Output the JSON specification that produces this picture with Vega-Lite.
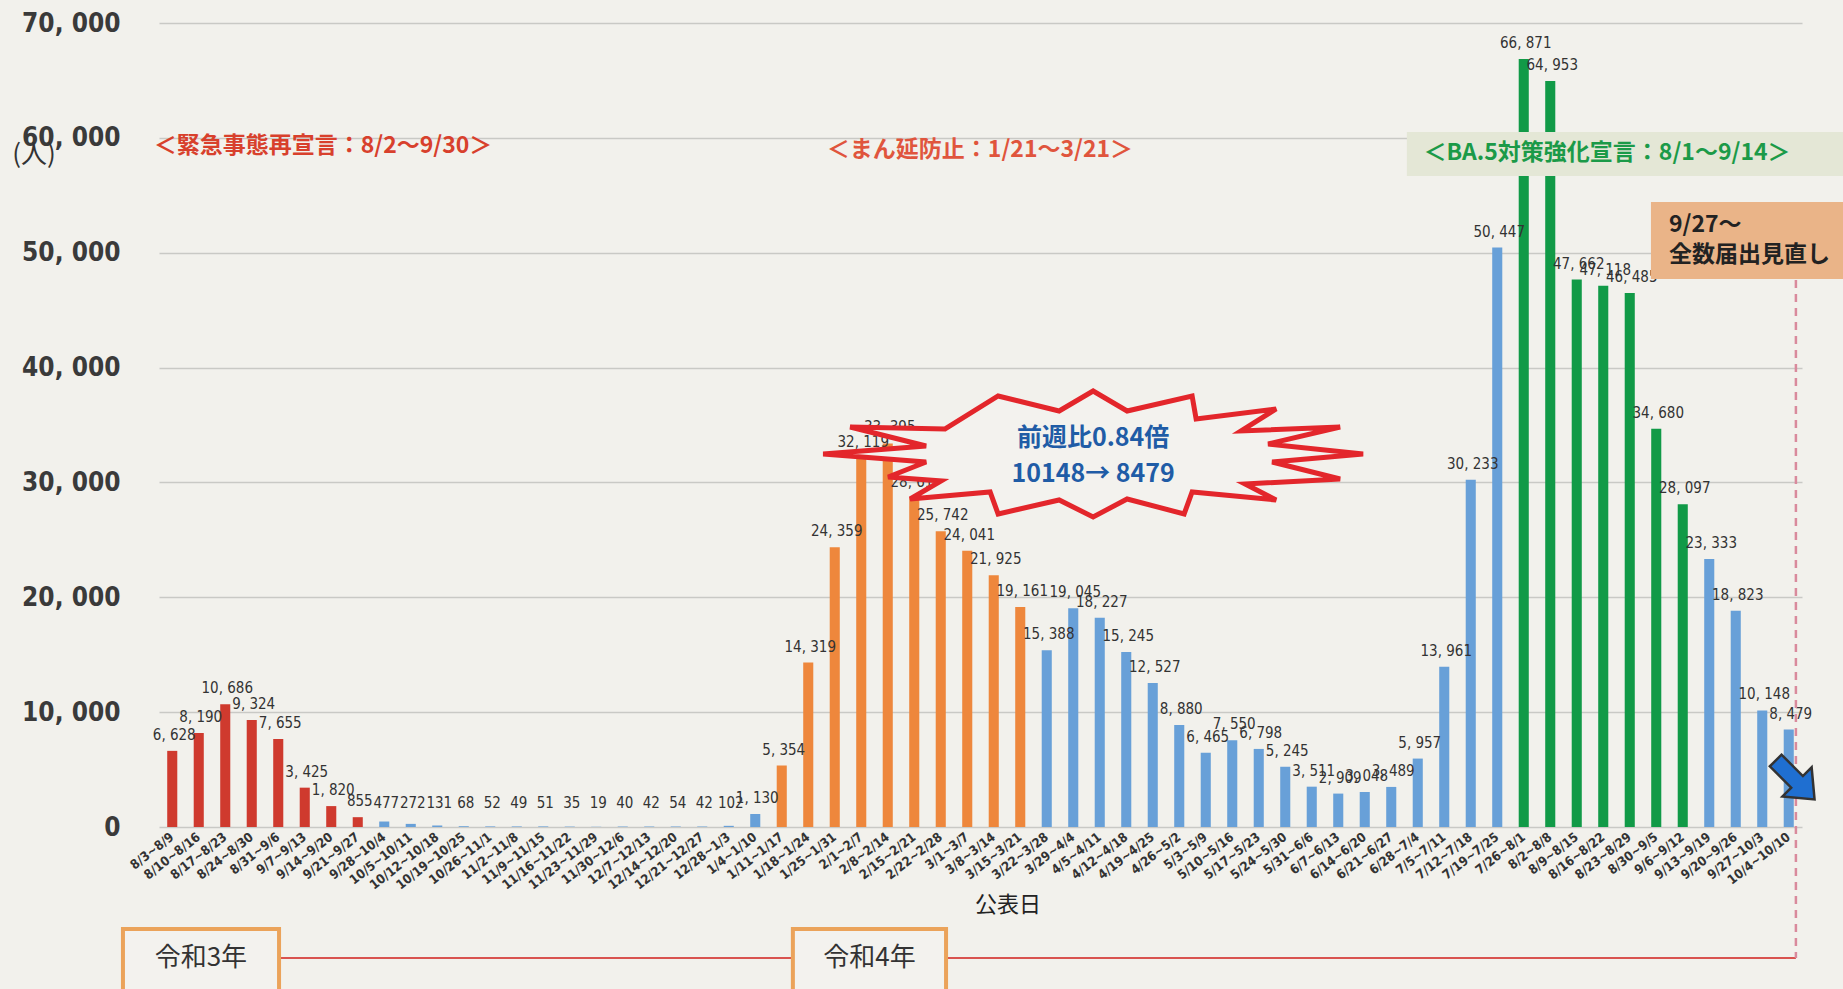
{
  "$schema": "https://vega.github.io/schema/vega-lite/v6.json",
  "width": 1643,
  "height": 804,
  "autosize": "none",
  "padding": {"left": 159, "top": 23, "right": 41, "bottom": 162},
  "background": "#f2f1ec",
  "config": {
    "view": {"stroke": null},
    "locale": {"number": {"decimal": ".", "thousands": ", ", "grouping": [3], "currency": ["", ""]}},
    "font": "Noto Sans CJK JP"
  },
  "resolve": {"scale": {"x": "independent", "y": "independent"}},
  "datasets": {
    "weeks": [
      {"week": "8/3~8/9", "value": 6628, "phase": "緊急事態"},
      {"week": "8/10~8/16", "value": 8190, "phase": "緊急事態"},
      {"week": "8/17~8/23", "value": 10686, "phase": "緊急事態"},
      {"week": "8/24~8/30", "value": 9324, "phase": "緊急事態"},
      {"week": "8/31~9/6", "value": 7655, "phase": "緊急事態"},
      {"week": "9/7~9/13", "value": 3425, "phase": "緊急事態"},
      {"week": "9/14~9/20", "value": 1820, "phase": "緊急事態"},
      {"week": "9/21~9/27", "value": 855, "phase": "緊急事態"},
      {"week": "9/28~10/4", "value": 477, "phase": "通常"},
      {"week": "10/5~10/11", "value": 272, "phase": "通常"},
      {"week": "10/12~10/18", "value": 131, "phase": "通常"},
      {"week": "10/19~10/25", "value": 68, "phase": "通常"},
      {"week": "10/26~11/1", "value": 52, "phase": "通常"},
      {"week": "11/2~11/8", "value": 49, "phase": "通常"},
      {"week": "11/9~11/15", "value": 51, "phase": "通常"},
      {"week": "11/16~11/22", "value": 35, "phase": "通常"},
      {"week": "11/23~11/29", "value": 19, "phase": "通常"},
      {"week": "11/30~12/6", "value": 40, "phase": "通常"},
      {"week": "12/7~12/13", "value": 42, "phase": "通常"},
      {"week": "12/14~12/20", "value": 54, "phase": "通常"},
      {"week": "12/21~12/27", "value": 42, "phase": "通常"},
      {"week": "12/28~1/3", "value": 102, "phase": "通常"},
      {"week": "1/4~1/10", "value": 1130, "phase": "通常"},
      {"week": "1/11~1/17", "value": 5354, "phase": "まん延防止"},
      {"week": "1/18~1/24", "value": 14319, "phase": "まん延防止"},
      {"week": "1/25~1/31", "value": 24359, "phase": "まん延防止"},
      {"week": "2/1~2/7", "value": 32119, "phase": "まん延防止"},
      {"week": "2/8~2/14", "value": 33395, "phase": "まん延防止"},
      {"week": "2/15~2/21", "value": 28618, "phase": "まん延防止"},
      {"week": "2/22~2/28", "value": 25742, "phase": "まん延防止"},
      {"week": "3/1~3/7", "value": 24041, "phase": "まん延防止"},
      {"week": "3/8~3/14", "value": 21925, "phase": "まん延防止"},
      {"week": "3/15~3/21", "value": 19161, "phase": "まん延防止"},
      {"week": "3/22~3/28", "value": 15388, "phase": "通常"},
      {"week": "3/29~4/4", "value": 19045, "phase": "通常"},
      {"week": "4/5~4/11", "value": 18227, "phase": "通常"},
      {"week": "4/12~4/18", "value": 15245, "phase": "通常"},
      {"week": "4/19~4/25", "value": 12527, "phase": "通常"},
      {"week": "4/26~5/2", "value": 8880, "phase": "通常"},
      {"week": "5/3~5/9", "value": 6465, "phase": "通常"},
      {"week": "5/10~5/16", "value": 7550, "phase": "通常"},
      {"week": "5/17~5/23", "value": 6798, "phase": "通常"},
      {"week": "5/24~5/30", "value": 5245, "phase": "通常"},
      {"week": "5/31~6/6", "value": 3511, "phase": "通常"},
      {"week": "6/7~6/13", "value": 2909, "phase": "通常"},
      {"week": "6/14~6/20", "value": 3048, "phase": "通常"},
      {"week": "6/21~6/27", "value": 3489, "phase": "通常"},
      {"week": "6/28~7/4", "value": 5957, "phase": "通常"},
      {"week": "7/5~7/11", "value": 13961, "phase": "通常"},
      {"week": "7/12~7/18", "value": 30233, "phase": "通常"},
      {"week": "7/19~7/25", "value": 50447, "phase": "通常"},
      {"week": "7/26~8/1", "value": 66871, "phase": "BA.5対策強化"},
      {"week": "8/2~8/8", "value": 64953, "phase": "BA.5対策強化"},
      {"week": "8/9~8/15", "value": 47662, "phase": "BA.5対策強化"},
      {"week": "8/16~8/22", "value": 47118, "phase": "BA.5対策強化"},
      {"week": "8/23~8/29", "value": 46485, "phase": "BA.5対策強化"},
      {"week": "8/30~9/5", "value": 34680, "phase": "BA.5対策強化"},
      {"week": "9/6~9/12", "value": 28097, "phase": "BA.5対策強化"},
      {"week": "9/13~9/19", "value": 23333, "phase": "通常"},
      {"week": "9/20~9/26", "value": 18823, "phase": "通常"},
      {"week": "9/27~10/3", "value": 10148, "phase": "通常"},
      {"week": "10/4~10/10", "value": 8479, "phase": "通常"}
    ]
  },
  "layer": [
    {
      "data": {"name": "weeks"},
      "mark": {"type": "bar"},
      "encoding": {
        "x": {
          "field": "week", "type": "nominal", "sort": null,
          "scale": {"paddingInner": 0.62, "paddingOuter": 0.31},
          "axis": {
            "title": null, "labelAngle": -38, "labelAlign": "right", "labelBaseline": "middle",
            "labelPadding": 8, "ticks": false, "domain": false, "labelOverlap": false, "labelLimit": 0,
            "labelFont": "Liberation Sans Narrow, DejaVu Sans Condensed, sans-serif",
            "labelFontSize": 13, "labelFontWeight": "bold", "labelColor": "#333333"
          }
        },
        "y": {
          "field": "value", "type": "quantitative",
          "scale": {"domain": [0, 70000], "nice": false},
          "axis": {
            "title": null, "values": [0, 10000, 20000, 30000, 40000, 50000, 60000, 70000],
            "format": ",d", "grid": true, "gridColor": "#c9c9c5", "gridWidth": 1.5,
            "domain": false, "ticks": false, "labelPadding": 39,
            "labelFont": "Liberation Sans Narrow, DejaVu Sans Condensed, sans-serif",
            "labelFontSize": 26, "labelFontWeight": "bold", "labelColor": "#3a3a3a"
          }
        },
        "color": {
          "field": "phase", "type": "nominal",
          "scale": {"domain": ["緊急事態", "通常", "まん延防止", "BA.5対策強化"], "range": ["#cf3a2e", "#68a0d8", "#ee873c", "#119a47"]},
          "legend": null
        }
      }
    },
    {
      "data": {"name": "weeks"},
      "mark": {"type": "text", "font": "Liberation Sans Narrow, DejaVu Sans Condensed, sans-serif", "fontSize": 15, "color": "#333333", "baseline": "alphabetic", "dy": -11, "dx": 2},
      "encoding": {
        "x": {"field": "week", "type": "nominal", "sort": null, "scale": {"paddingInner": 0.62, "paddingOuter": 0.31}, "axis": null},
        "y": {"field": "value", "type": "quantitative", "scale": {"domain": [700, 70000], "range": [795.96, 0], "clamp": true, "nice": false, "zero": false}, "axis": null},
        "text": {"field": "value", "type": "quantitative", "format": ",d"}
      }
    },
    {
      "data": {"values": [{"k": 1}]},
      "mark": {"type": "rect", "fill": "#e4e7d6"},
      "encoding": {
        "x": {"datum": 47.09, "type": "quantitative", "scale": {"domain": [0, 62], "nice": false, "zero": false}, "axis": null},
        "x2": {"datum": 63.55},
        "y": {"datum": 60510, "type": "quantitative", "scale": {"domain": [0, 70000], "nice": false}, "axis": null},
        "y2": {"datum": 56680}
      }
    },
    {
      "data": {"values": [{"t": "＜BA.5対策強化宣言：8/1～9/14＞"}]},
      "mark": {"type": "text", "fontSize": 23, "fontWeight": "bold", "color": "#1b9a48"},
      "encoding": {
        "x": {"datum": 54.64, "type": "quantitative", "scale": {"domain": [0, 62], "nice": false, "zero": false}, "axis": null},
        "y": {"datum": 58682, "type": "quantitative", "scale": {"domain": [0, 70000], "nice": false}, "axis": null},
        "text": {"field": "t"}
      }
    },
    {
      "data": {"values": [{"t": "＜緊急事態再宣言：8/2～9/30＞"}]},
      "mark": {"type": "text", "fontSize": 23, "fontWeight": "bold", "color": "#d8402c"},
      "encoding": {
        "x": {"datum": 6.19, "type": "quantitative", "scale": {"domain": [0, 62], "nice": false, "zero": false}, "axis": null},
        "y": {"datum": 59292, "type": "quantitative", "scale": {"domain": [0, 70000], "nice": false}, "axis": null},
        "text": {"field": "t"}
      }
    },
    {
      "data": {"values": [{"t": "＜まん延防止：1/21～3/21＞"}]},
      "mark": {"type": "text", "fontSize": 23, "fontWeight": "bold", "color": "#e0553d"},
      "encoding": {
        "x": {"datum": 30.98, "type": "quantitative", "scale": {"domain": [0, 62], "nice": false, "zero": false}, "axis": null},
        "y": {"datum": 58943, "type": "quantitative", "scale": {"domain": [0, 70000], "nice": false}, "axis": null},
        "text": {"field": "t"}
      }
    },
    {
      "data": {"values": [{"t": "(人)"}]},
      "mark": {"type": "text", "fontSize": 26, "color": "#333333"},
      "encoding": {
        "x": {"datum": -4.72, "type": "quantitative", "scale": {"domain": [0, 62], "nice": false, "zero": false}, "axis": null},
        "y": {"datum": 58508, "type": "quantitative", "scale": {"domain": [0, 70000], "nice": false}, "axis": null},
        "text": {"field": "t"}
      }
    },
    {
      "data": {"values": [{"k": 1}]},
      "mark": {"type": "rect", "fill": "#eab488"},
      "encoding": {
        "x": {"datum": 56.3, "type": "quantitative", "scale": {"domain": [0, 62], "nice": false, "zero": false}, "axis": null},
        "x2": {"datum": 63.55},
        "y": {"datum": 54416, "type": "quantitative", "scale": {"domain": [0, 70000], "nice": false}, "axis": null},
        "y2": {"datum": 47713}
      }
    },
    {
      "data": {"values": [{"t": "9/27～"}]},
      "mark": {"type": "text", "fontSize": 23, "fontWeight": "bold", "color": "#222222", "align": "left"},
      "encoding": {
        "x": {"datum": 56.98, "type": "quantitative", "scale": {"domain": [0, 62], "nice": false, "zero": false}, "axis": null},
        "y": {"datum": 52414, "type": "quantitative", "scale": {"domain": [0, 70000], "nice": false}, "axis": null},
        "text": {"field": "t"}
      }
    },
    {
      "data": {"values": [{"t": "全数届出見直し"}]},
      "mark": {"type": "text", "fontSize": 23, "fontWeight": "bold", "color": "#222222", "align": "left"},
      "encoding": {
        "x": {"datum": 56.98, "type": "quantitative", "scale": {"domain": [0, 62], "nice": false, "zero": false}, "axis": null},
        "y": {"datum": 49802, "type": "quantitative", "scale": {"domain": [0, 70000], "nice": false}, "axis": null},
        "text": {"field": "t"}
      }
    },
    {
      "data": {"values": [{"k": 1}]},
      "mark": {
        "type": "point", "filled": true, "size": 40000, "fill": "#f3f2ee", "stroke": "#e3262b", "strokeWidth": 5, "opacity": 1, "strokeJoin": "miter",
        "shape": "M-1.48,-0.25 L-0.95,-0.58 L-0.34,-0.43 L0,-0.63 L0.34,-0.43 L0.99,-0.58 L1.03,-0.35 L1.83,-0.45 L1.48,-0.23 L2.47,-0.27 L1.75,-0.1 L2.7,0 L1.79,0.08 L2.47,0.25 L1.52,0.3 L1.83,0.46 L0.99,0.38 L0.91,0.6 L0.34,0.45 L0,0.63 L-0.34,0.46 L-0.95,0.6 L-1.03,0.38 L-1.83,0.45 L-1.52,0.27 L-2.05,0.23 L-1.67,0.08 L-2.7,0 L-1.67,-0.08 L-2.43,-0.27 Z"
      },
      "encoding": {
        "x": {"datum": 35.25, "type": "quantitative", "scale": {"domain": [0, 62], "nice": false, "zero": false}, "axis": null},
        "y": {"datum": 32477, "type": "quantitative", "scale": {"domain": [0, 70000], "nice": false}, "axis": null}
      }
    },
    {
      "data": {"values": [{"t": "前週比0.84倍"}]},
      "mark": {"type": "text", "fontSize": 25, "fontWeight": "bold", "color": "#1f5ca6"},
      "encoding": {
        "x": {"datum": 35.25, "type": "quantitative", "scale": {"domain": [0, 62], "nice": false, "zero": false}, "axis": null},
        "y": {"datum": 33870, "type": "quantitative", "scale": {"domain": [0, 70000], "nice": false}, "axis": null},
        "text": {"field": "t"}
      }
    },
    {
      "data": {"values": [{"t": "10148→ 8479"}]},
      "mark": {"type": "text", "fontSize": 25, "fontWeight": "bold", "color": "#1f5ca6"},
      "encoding": {
        "x": {"datum": 35.25, "type": "quantitative", "scale": {"domain": [0, 62], "nice": false, "zero": false}, "axis": null},
        "y": {"datum": 30736, "type": "quantitative", "scale": {"domain": [0, 70000], "nice": false}, "axis": null},
        "text": {"field": "t"}
      }
    },
    {
      "data": {"values": [{"k": 1}]},
      "mark": {"type": "rule", "stroke": "#d9534f", "strokeWidth": 2},
      "encoding": {
        "x": {"datum": 4.53, "type": "quantitative", "scale": {"domain": [0, 62], "nice": false, "zero": false}, "axis": null},
        "x2": {"datum": 61.77},
        "y": {"datum": -11401, "type": "quantitative", "scale": {"domain": [0, 70000], "nice": false}, "axis": null}
      }
    },
    {
      "data": {"values": [{"k": 1}]},
      "mark": {"type": "rule", "stroke": "#d98a9c", "strokeWidth": 2.5, "strokeDash": [8, 6]},
      "encoding": {
        "x": {"datum": 61.77, "type": "quantitative", "scale": {"domain": [0, 62], "nice": false, "zero": false}, "axis": null},
        "y": {"datum": 47626, "type": "quantitative", "scale": {"domain": [0, 70000], "nice": false}, "axis": null},
        "y2": {"datum": -11401}
      }
    },
    {
      "data": {"values": [{"k": 1}]},
      "mark": {"type": "rect", "fill": "#f3f2ee", "stroke": "#eba35a", "strokeWidth": 4},
      "encoding": {
        "x": {"datum": -1.36, "type": "quantitative", "scale": {"domain": [0, 62], "nice": false, "zero": false}, "axis": null},
        "x2": {"datum": 4.53},
        "y": {"datum": -8876, "type": "quantitative", "scale": {"domain": [0, 70000], "nice": false}, "axis": null},
        "y2": {"datum": -14361}
      }
    },
    {
      "data": {"values": [{"k": 1}]},
      "mark": {"type": "rect", "fill": "#f3f2ee", "stroke": "#eba35a", "strokeWidth": 4},
      "encoding": {
        "x": {"datum": 23.92, "type": "quantitative", "scale": {"domain": [0, 62], "nice": false, "zero": false}, "axis": null},
        "x2": {"datum": 29.7},
        "y": {"datum": -8876, "type": "quantitative", "scale": {"domain": [0, 70000], "nice": false}, "axis": null},
        "y2": {"datum": -14361}
      }
    },
    {
      "data": {"values": [{"t": "令和3年"}]},
      "mark": {"type": "text", "fontSize": 26, "color": "#333333"},
      "encoding": {
        "x": {"datum": 1.58, "type": "quantitative", "scale": {"domain": [0, 62], "nice": false, "zero": false}, "axis": null},
        "y": {"datum": -11401, "type": "quantitative", "scale": {"domain": [0, 70000], "nice": false}, "axis": null},
        "text": {"field": "t"}
      }
    },
    {
      "data": {"values": [{"t": "令和4年"}]},
      "mark": {"type": "text", "fontSize": 26, "color": "#333333"},
      "encoding": {
        "x": {"datum": 26.81, "type": "quantitative", "scale": {"domain": [0, 62], "nice": false, "zero": false}, "axis": null},
        "y": {"datum": -11401, "type": "quantitative", "scale": {"domain": [0, 70000], "nice": false}, "axis": null},
        "text": {"field": "t"}
      }
    },
    {
      "data": {"values": [{"t": "公表日"}]},
      "mark": {"type": "text", "fontSize": 22, "color": "#222222"},
      "encoding": {
        "x": {"datum": 32.04, "type": "quantitative", "scale": {"domain": [0, 62], "nice": false, "zero": false}, "axis": null},
        "y": {"datum": -6787, "type": "quantitative", "scale": {"domain": [0, 70000], "nice": false}, "axis": null},
        "text": {"field": "t"}
      }
    },
    {
      "data": {"values": [{"k": 1}]},
      "mark": {
        "type": "point", "filled": true, "size": 3025, "angle": 45, "fill": "#1f6fd1", "stroke": "#333333", "strokeWidth": 2.5, "opacity": 1,
        "shape": "M-1,-0.3 L0.1,-0.3 L0.1,-0.75 L1,0 L0.1,0.75 L0.1,0.3 L-1,0.3 Z"
      },
      "encoding": {
        "x": {"datum": 61.74, "type": "quantitative", "scale": {"domain": [0, 62], "nice": false, "zero": false}, "axis": null},
        "y": {"datum": 4096, "type": "quantitative", "scale": {"domain": [0, 70000], "nice": false}, "axis": null}
      }
    }
  ]
}
